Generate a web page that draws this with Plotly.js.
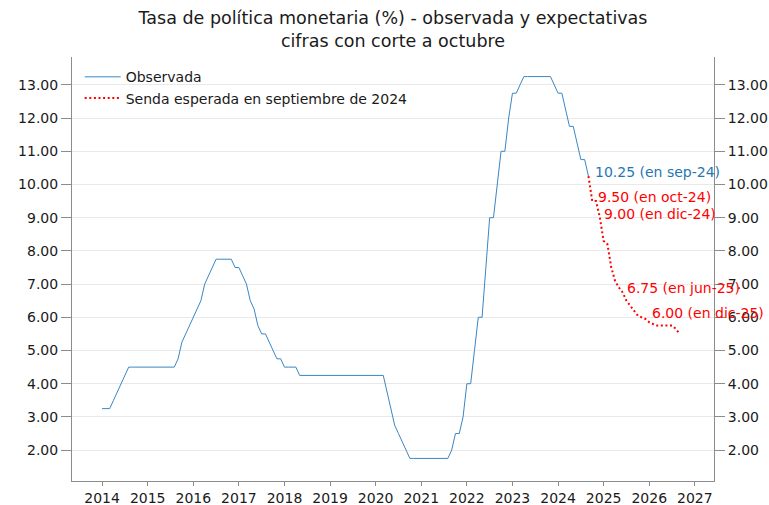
<!DOCTYPE html>
<html><head><meta charset="utf-8">
<script src="https://cdn.plot.ly/plotly-3.0.1.min.js"></script>
<style>html,body{margin:0;padding:0;background:#fff}</style>
</head><body><div id="chart" style="width:769px;height:505px"></div>
<script>
// Observed monthly policy rate, starting January 2014
const observadaInicio = [2014, 1];
const observada2014 = [3.25,3.25,3.25,3.5,3.75,4.0,4.25,4.5,4.5,4.5,4.5,4.5];
const observada2015 = [4.5,4.5,4.5,4.5,4.5,4.5,4.5,4.5,4.75,5.25,5.5,5.75];
const observada2016 = [6.0,6.25,6.5,7.0,7.25,7.5,7.75,7.75,7.75,7.75,7.75,7.5];
const observada2017 = [7.5,7.25,7.0,6.5,6.25,5.75,5.5,5.5,5.25,5.0,4.75,4.75];
const observada2018 = [4.5,4.5,4.5,4.5,4.25,4.25,4.25,4.25,4.25,4.25,4.25,4.25];
const observada2019 = [4.25,4.25,4.25,4.25,4.25,4.25,4.25,4.25,4.25,4.25,4.25,4.25];
const observada2020 = [4.25,4.25,4.25,3.75,3.25,2.75,2.5,2.25,2.0,1.75,1.75,1.75];
const observada2021 = [1.75,1.75,1.75,1.75,1.75,1.75,1.75,1.75,2.0,2.5,2.5,3.0];
const observada2022 = [4.0,4.0,5.0,6.0,6.0,7.5,9.0,9.0,10.0,11.0,11.0,12.0];
const observada2023 = [12.75,12.75,13.0,13.25,13.25,13.25,13.25,13.25,13.25,13.25,13.25,13.0];
const observada2024 = [12.75,12.75,12.25,11.75,11.75,11.25,10.75,10.75,10.25];

// Expected path (survey of September 2024), starting September 2024
const sendaInicio = [2024, 9];
const senda = [10.25,9.5,9.5,9.0,8.3,8.2,7.5,7.1,6.9,6.75,6.5,6.35,6.2,6.05,6.0,5.95,
               5.85,5.8,5.75,5.75,5.75,5.75,5.75,5.65,5.5];

// Annotations
const etiquetas = ['10.25 (en sep-24)','9.50 (en oct-24)','9.00 (en dic-24)','6.75 (en jun-25)','6.00 (en dic-25)'];
const etiquetaMes = [[2024,9],[2024,10],[2024,12],[2025,6],[2025,12]];
const etiquetaValor = [10.25, 9.50, 9.00, 6.75, 6.00];
const etiquetaSerie = ['obs','senda','senda','senda','senda'];
const etiquetaDesplazX = [5, 4, 2, 2, 5];

const anios = [2014,2015,2016,2017,2018,2019,2020,2021,2022,2023,2024,2025,2026,2027];
const tituloTexto = 'Tasa de política monetaria (%) - observada y expectativas<br>cifras con corte a octubre';
const nombreObs = 'Observada';
const nombreSenda = 'Senda esperada en septiembre de 2024';

const AZUL = '#1f77b4', AZUL_LINEA = '#3b86c3', ROJO = '#ff0000';
const FONT = 'DejaVu Sans, Verdana, sans-serif';

function mesX(y, m) { return y + (m - 1) / 12; }
function serieX(inicio, n) {
  const xs = [];
  for (let i = 0; i < n; i++) {
    const t = inicio[1] - 1 + i;
    xs.push(mesX(inicio[0] + Math.floor(t / 12), (t % 12) + 1));
  }
  return xs;
}

const observada = [].concat(observada2014, observada2015, observada2016, observada2017,
  observada2018, observada2019, observada2020, observada2021, observada2022,
  observada2023, observada2024);

const traces = [
  { x: serieX(observadaInicio, observada.length), y: observada, type: 'scatter', mode: 'lines',
    name: nombreObs, line: { color: AZUL_LINEA, width: 1 } },
  { x: serieX(sendaInicio, senda.length), y: senda, type: 'scatter', mode: 'lines',
    name: nombreSenda, line: { color: ROJO, width: 2, dash: '2px,2.6px' } },
  { x: [null], y: [null], yaxis: 'y2', showlegend: false, hoverinfo: 'skip', mode: 'lines' }
];

const annotations = etiquetas.map((t, i) => ({
  text: t, x: mesX(etiquetaMes[i][0], etiquetaMes[i][1]), y: etiquetaValor[i],
  xref: 'x', yref: 'y', showarrow: false, xanchor: 'left', yanchor: 'middle',
  xshift: etiquetaDesplazX[i], yshift: 4,
  font: { family: FONT, size: 14, color: etiquetaSerie[i] === 'obs' ? AZUL : ROJO }
}));

const yRange = [1.07, 13.84];
const axisCommon = {
  showline: true, linecolor: '#8c8c8c', linewidth: 1, ticks: 'outside', ticklen: 10,
  tickcolor: '#8c8c8c', tickwidth: 1, zeroline: false,
  tickfont: { family: FONT, size: 14, color: '#1a1a1a' }
};

const layout = {
  width: 769, height: 505,
  margin: { l: 72, r: 54.5, t: 57, b: 24, pad: 0 },
  paper_bgcolor: '#fff', plot_bgcolor: '#fff',
  font: { family: FONT, color: '#1a1a1a' },
  title: { text: tituloTexto, x: 0.5, xref: 'paper', xanchor: 'center',
           y: 1 - 24 / 505, yref: 'container', yanchor: 'top',
           font: { family: FONT, size: 17.5, color: '#1a1a1a' } },
  xaxis: Object.assign({}, axisCommon, {
    range: [2013.34, 2027.42], tickmode: 'array', tickvals: anios,
    ticktext: anios.map(String), showgrid: false, ticklen: 4
  }),
  yaxis: Object.assign({}, axisCommon, {
    range: yRange, tickmode: 'linear', tick0: 0, dtick: 1, tickformat: '.2f',
    showgrid: true, gridcolor: '#e9e9e9', gridwidth: 1
  }),
  yaxis2: Object.assign({}, axisCommon, {
    range: yRange, tickmode: 'linear', tick0: 0, dtick: 1, tickformat: '.2f',
    overlaying: 'y', side: 'right', showgrid: false, anchor: 'x'
  }),
  showlegend: true,
  legend: { x: 0.012, y: 0.99, xanchor: 'left', yanchor: 'top', bgcolor: 'rgba(0,0,0,0)',
            itemwidth: 36,
            font: { family: FONT, size: 14, color: '#1a1a1a' }, tracegroupgap: 0 },
  annotations: annotations
};

Plotly.newPlot('chart', traces, layout, { displayModeBar: false, staticPlot: true });
</script></body></html>
